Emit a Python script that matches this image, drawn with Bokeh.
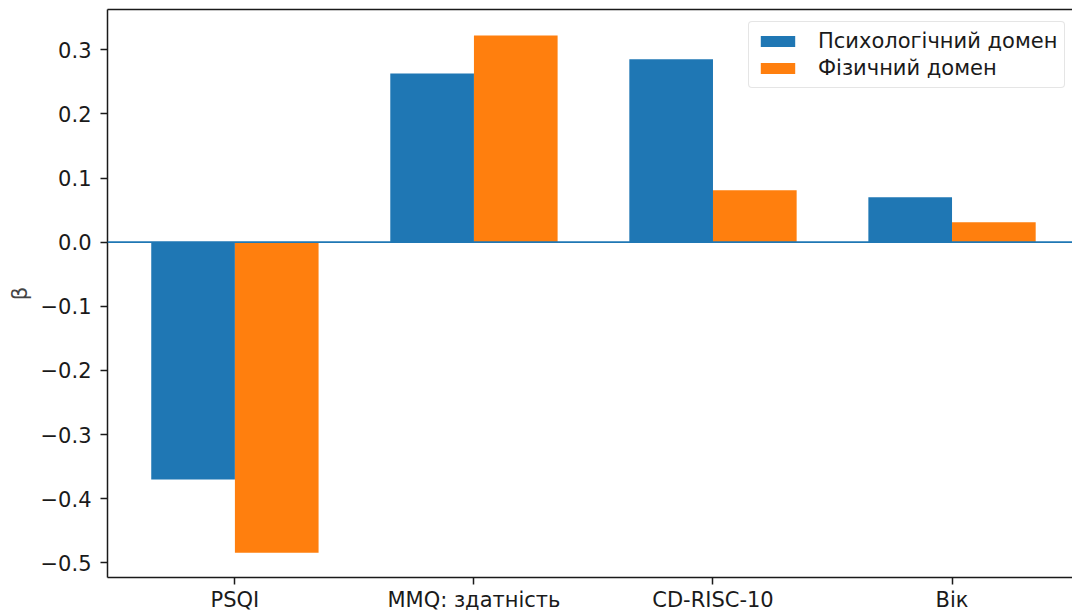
import numpy as np
from bokeh.plotting import figure
from bokeh.models import Range1d, FixedTicker, LinearAxis, Span, Legend, LegendItem
from bokeh.embed import file_html
from bokeh.resources import INLINE

categories = ["PSQI", "MMQ: здатність", "CD-RISC-10", "Вік"]
psych = [-0.370, 0.263, 0.285, 0.070]
phys = [-0.484, 0.322, 0.081, 0.031]
series_names = ["Психологічний домен", "Фізичний домен"]
y_ticks = [-0.5, -0.4, -0.3, -0.2, -0.1, 0.0, 0.1, 0.2, 0.3]
y_tick_labels = ["−0.5", "−0.4", "−0.3", "−0.2", "−0.1", "0.0", "0.1", "0.2", "0.3"]

FONT = "DejaVu Sans"
FS = "21px"
BAR_W = 0.35

x = np.arange(len(categories))

p = figure(width=1072, height=614, output_backend="svg", toolbar_location=None,
           x_range=Range1d(-0.533, 3.504), y_range=Range1d(-0.5227, 0.3627),
           min_border_left=107, min_border_top=9, min_border_right=0, min_border_bottom=37)
p.outline_line_color = None
p.border_fill_color = "white"
p.xgrid.grid_line_color = None
p.ygrid.grid_line_color = None
p.background_fill_color = "white"

r1 = p.vbar(x=x - BAR_W / 2, top=psych, bottom=0, width=BAR_W, fill_color="#1f77b4", line_color=None)
r2 = p.vbar(x=x + BAR_W / 2, top=phys, bottom=0, width=BAR_W, fill_color="#ff7f0e", line_color=None)

p.add_layout(Span(location=0, dimension="width", line_color="#1f77b4", line_width=1.8))

for ax in (p.xaxis[0], p.yaxis[0]):
    ax.axis_line_width = 1.5
    ax.axis_line_color = "#1a1a1a"
    ax.major_tick_line_width = 1.5
    ax.major_tick_line_color = "#1a1a1a"
    ax.major_tick_out = 7
    ax.major_tick_in = 0
    ax.minor_tick_line_color = None
    ax.major_label_text_font = FONT
    ax.major_label_text_font_size = FS
    ax.major_label_text_color = "#1a1a1a"

p.xaxis.ticker = FixedTicker(ticks=list(x))
p.xaxis.major_label_overrides = {int(i): c for i, c in zip(x, categories)}
p.xaxis.major_label_standoff = 3

p.yaxis.ticker = FixedTicker(ticks=y_ticks)
p.yaxis.major_label_overrides = {t: l for t, l in zip(y_ticks, y_tick_labels)}
p.yaxis.major_label_standoff = 9
p.yaxis.axis_label = "β"
p.yaxis.axis_label_text_font = FONT
p.yaxis.axis_label_text_font_size = FS
p.yaxis.axis_label_text_font_style = "normal"
p.yaxis.axis_label_standoff = 6

top_axis = LinearAxis(ticker=FixedTicker(ticks=[0]), major_tick_out=0, major_tick_in=0,
                      minor_tick_out=0, minor_tick_in=0, major_tick_line_color=None,
                      minor_tick_line_color=None, major_label_text_font_size="0px",
                      major_label_text_color=None,
                      axis_line_width=1.5, axis_line_color="#1a1a1a", major_label_standoff=0)
p.add_layout(top_axis, "above")

legend = Legend(items=[LegendItem(label=series_names[0], renderers=[r1]),
                       LegendItem(label=series_names[1], renderers=[r2])],
                location=(641, 489))
legend.label_text_font = FONT
legend.label_text_font_size = FS
legend.label_text_color = "#1a1a1a"
legend.glyph_width = 43
legend.glyph_height = 14
legend.label_standoff = 19
legend.spacing = 3
legend.padding = 7
legend.margin = 0
legend.border_line_color = "#cccccc"
legend.border_line_width = 1.2
legend.background_fill_alpha = 0.8
legend.label_height = 20
try:
    legend.border_radius = 4
except Exception:
    pass
p.add_layout(legend)

open("out.html", "w").write(file_html(p, INLINE))
